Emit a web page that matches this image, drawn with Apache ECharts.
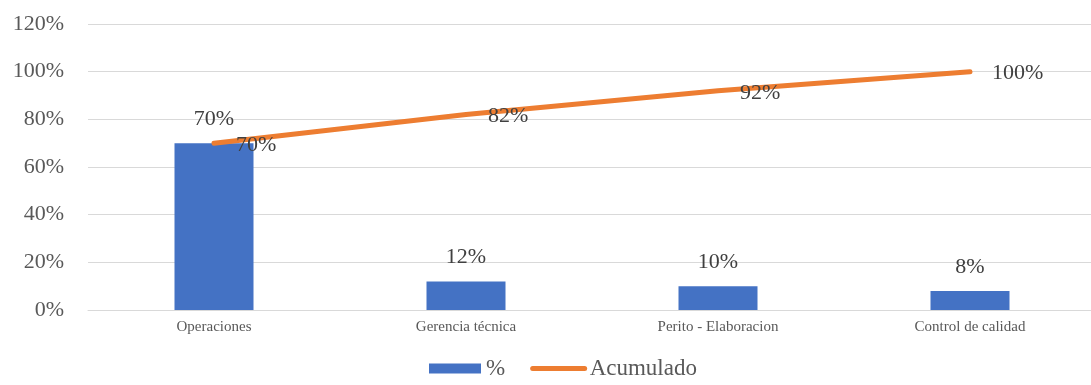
<!DOCTYPE html>
<html lang="es">
<head>
    <meta charset="UTF-8">
    <title>Pareto</title>
    <script src="https://cdn.jsdelivr.net/npm/echarts@6/dist/echarts.min.js"></script>
    <style>
        html, body { margin: 0; padding: 0; background: #fff; }
        #chart { width: 1091px; height: 385px; }
    </style>
</head>
<body>
    <div id="chart"></div>
<script>
    var categorias = ['Operaciones', 'Gerencia técnica', 'Perito - Elaboracion', 'Control de calidad'];
    var porcentaje = [70, 12, 10, 8];
    var acumulado = [70, 82, 92, 100];

    var fuente = '"Liberation Serif", "Times New Roman", serif';
    var chart = echarts.init(document.getElementById('chart'));

    var option = {
        animation: false,
        grid: {
            left: 88,
            width: 1008,
            top: 24,
            bottom: 75,
            outerBoundsMode: 'none'
        },
        legend: {
            bottom: 0,
            left: 424,
            itemWidth: 52,
            itemHeight: 10,
            itemGap: 25,
            textStyle: { fontFamily: fuente, fontSize: 23, color: '#595959' },
            data: [
                { name: '%', icon: 'rect' },
                { name: 'Acumulado', itemStyle: { opacity: 0 }, lineStyle: { width: 5 } }
            ]
        },
        xAxis: {
            type: 'category',
            data: categorias,
            axisLine: { lineStyle: { color: '#d9d9d9', width: 1 } },
            axisTick: { show: false },
            axisLabel: { fontFamily: fuente, fontSize: 15, color: '#595959', margin: 10 }
        },
        yAxis: {
            type: 'value',
            min: 0,
            max: 120,
            interval: 20,
            axisLine: { show: false },
            axisTick: { show: false },
            splitLine: { lineStyle: { color: '#d9d9d9', width: 1 } },
            axisLabel: {
                fontFamily: fuente, fontSize: 22, color: '#595959', margin: 24,
                formatter: '{value}%'
            }
        },
        series: [{
            name: '%',
            type: 'bar',
            data: porcentaje,
            barWidth: 79,
            itemStyle: { color: '#4472C4' },
            label: {
                show: true,
                position: 'top',
                distance: 13,
                formatter: '{c}%',
                fontFamily: fuente, fontSize: 22, color: '#404040'
            }
        }, {
            name: 'Acumulado',
            type: 'line',
            data: acumulado,
            symbol: 'circle',
            symbolSize: 0.01,
            lineStyle: { color: '#ED7D31', width: 5, cap: 'round' },
            itemStyle: { color: '#ED7D31' },
            label: {
                show: true,
                position: 'right',
                distance: 22,
                offset: [0, 2],
                formatter: '{c}%',
                fontFamily: fuente, fontSize: 22, color: '#404040'
            }
        }]
    };
    chart.setOption(option);
</script>
</body>
</html>
